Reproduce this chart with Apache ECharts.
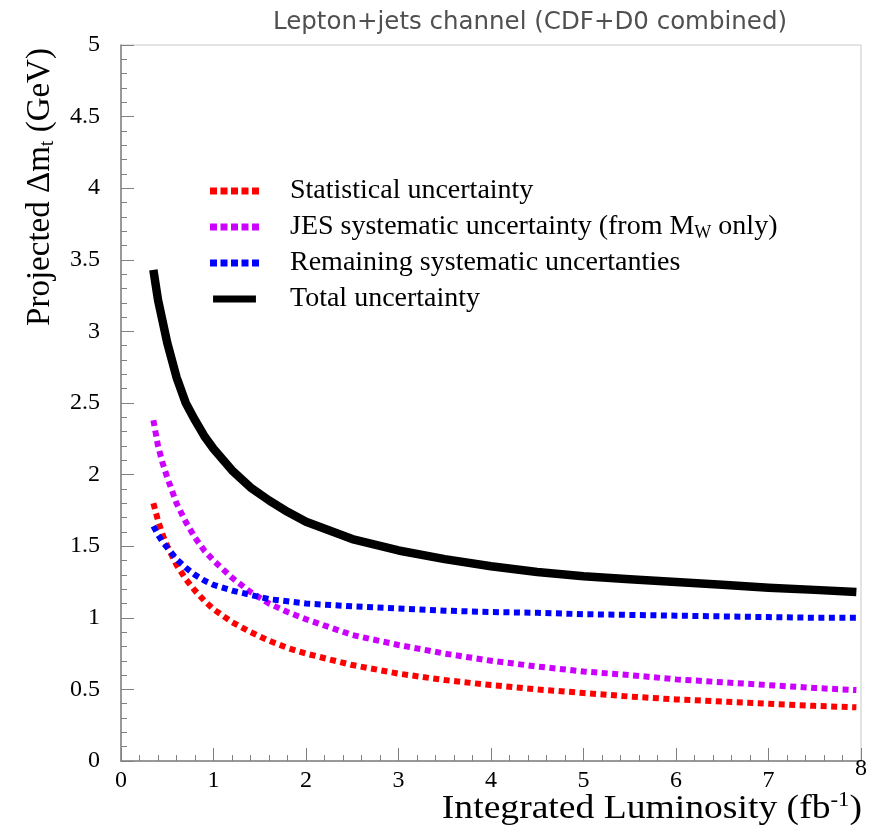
<!DOCTYPE html>
<html><head><meta charset="utf-8">
<script src="https://cdn.jsdelivr.net/npm/echarts@6/dist/echarts.min.js"></script>
<style>html,body{margin:0;padding:0;background:#fff}#c{width:878px;height:825px}</style>
</head><body><div id="c"></div>
<script>
// Integrated luminosity (fb^-1)
const lumi = [0.35,0.4,0.45,0.5,0.6,0.7,0.8,0.9,1.0,1.2,1.4,1.6,1.8,2.0,2.5,3.0,3.5,4.0,4.5,5.0,5.5,6.0,6.5,7.0,7.5,7.95];
// Projected uncertainties (GeV)
const statUnc = [1.80,1.68,1.58,1.50,1.37,1.27,1.19,1.12,1.06,0.97,0.90,0.84,0.79,0.75,0.67,0.61,0.565,0.53,0.50,0.475,0.45,0.43,0.415,0.40,0.385,0.375];
const jesUnc  = [2.38,2.20,2.08,1.98,1.80,1.67,1.56,1.47,1.40,1.28,1.18,1.10,1.04,0.99,0.88,0.81,0.75,0.70,0.66,0.625,0.60,0.57,0.55,0.53,0.51,0.495];
const remUnc  = [1.64,1.58,1.53,1.49,1.41,1.35,1.30,1.26,1.23,1.19,1.16,1.13,1.115,1.10,1.08,1.065,1.05,1.04,1.035,1.025,1.02,1.015,1.01,1.005,1.0,1.0];
const totUnc  = [3.43,3.22,3.07,2.92,2.68,2.50,2.38,2.27,2.18,2.03,1.91,1.82,1.74,1.67,1.55,1.47,1.41,1.36,1.32,1.29,1.27,1.25,1.23,1.21,1.195,1.18];
const seriesNames = ['Statistical uncertainty','JES systematic uncertainty (from M_W only)','Remaining systematic uncertanties','Total uncertainty'];
const titleText = 'Lepton+jets channel (CDF+D0 combined)';

const pairs = arr => lumi.map((x,i)=>[x,arr[i]]);
const serif = 'Liberation Serif';
const dottedIcon = 'path://M0,0h7v7h-7z M10.5,0h7v7h-7z M21,0h7v7h-7z M31.5,0h7v7h-7z M42,0h7v7h-7z';
const solidIcon = 'path://M0,0h49v8h-49z';

function dotted(name, data, color){
  return {name, type:'line', data:pairs(data), showSymbol:false, symbol:'none', smooth:false,
    lineStyle:{color, width:6, type:[6,4.5], cap:'butt'}, itemStyle:{color}, z:2};
}

const chart = echarts.init(document.getElementById('c'), null, {renderer:'canvas'});
chart.setOption({
  animation:false,
  backgroundColor:'#fff',
  title:{text:titleText, left:268, top:5, textStyle:{fontFamily:'DejaVu Sans', fontWeight:'normal', fontSize:24.5, color:'#505050'}},
  grid:{left:121, right:17, top:45, bottom:64, show:true, borderColor:'#c8c8c8', borderWidth:1, containLabel:false, outerBoundsMode:'none'},
  legend:{
    orient:'vertical', left:205, top:171, itemWidth:49, itemHeight:7, itemGap:6,
    data:[
      {name:seriesNames[0], icon:dottedIcon},
      {name:seriesNames[1], icon:dottedIcon},
      {name:seriesNames[2], icon:dottedIcon},
      {name:seriesNames[3], icon:solidIcon}
    ],
    formatter: n => n.indexOf('M_W')>=0 ? '{t|JES systematic uncertainty (from M}{s|W}{t| only)}' : '{t|'+n+'}',
    textStyle:{fontFamily:serif, fontSize:28, color:'#000', padding:[0,0,0,26], lineHeight:30,
      rich:{t:{fontFamily:serif, fontSize:28, color:'#000', lineHeight:30},
            s:{fontFamily:serif, fontSize:18, color:'#000', verticalAlign:'bottom', lineHeight:26}}}
  },
  xAxis:{type:'value', min:0, max:8, interval:1,
    axisLine:{show:true, onZero:false, lineStyle:{color:'#808080', width:1.5}},
    axisTick:{show:true, inside:true, length:13, lineStyle:{color:'#808080'}},
    minorTick:{show:true, splitNumber:5, length:6, lineStyle:{color:'#808080'}},
    splitLine:{show:false},
    axisLabel:{margin:20, verticalAlign:'middle', fontFamily:serif, fontSize:24, color:'#000',
      formatter: v => v===8 ? '8\n ' : String(v)}
  },
  yAxis:{type:'value', min:0, max:5, interval:0.5,
    axisLine:{show:true, onZero:false, lineStyle:{color:'#808080', width:1.5}},
    axisTick:{show:true, inside:true, length:13, lineStyle:{color:'#808080'}},
    minorTick:{show:true, splitNumber:5, length:6, lineStyle:{color:'#808080'}},
    splitLine:{show:false},
    axisLabel:{margin:21, fontFamily:serif, fontSize:24, color:'#000'}
  },
  graphic:[
    {type:'text', x:40, y:187, rotation:Math.PI/2, z:10,
      style:{text:'{a|Projected Δm}{s|t}{a| (GeV)}', align:'center', verticalAlign:'middle',
        rich:{a:{fontFamily:serif, fontSize:33, fill:'#000', lineHeight:36},
              s:{fontFamily:serif, fontSize:20, fill:'#000', verticalAlign:'bottom', lineHeight:28}}}},
    {type:'text', x:862, y:809, scaleX:1.14, z:10,
      style:{text:'{a|Integrated Luminosity (fb}{p|-1}{a|)}', align:'right', verticalAlign:'middle',
        rich:{a:{fontFamily:serif, fontSize:33, fill:'#000', lineHeight:36},
              p:{fontFamily:serif, fontSize:20, fill:'#000', verticalAlign:'top', lineHeight:36}}}}
  ],
  series:[
    dotted(seriesNames[0], statUnc, '#ff0000'),
    dotted(seriesNames[1], jesUnc, '#cc00ff'),
    dotted(seriesNames[2], remUnc, '#0000ff'),
    {name:seriesNames[3], type:'line', data:pairs(totUnc), showSymbol:false, symbol:'none', smooth:false,
      lineStyle:{color:'#000', width:8.5, cap:'butt', join:'round'}, itemStyle:{color:'#000'}, z:3}
  ]
});
</script></body></html>
